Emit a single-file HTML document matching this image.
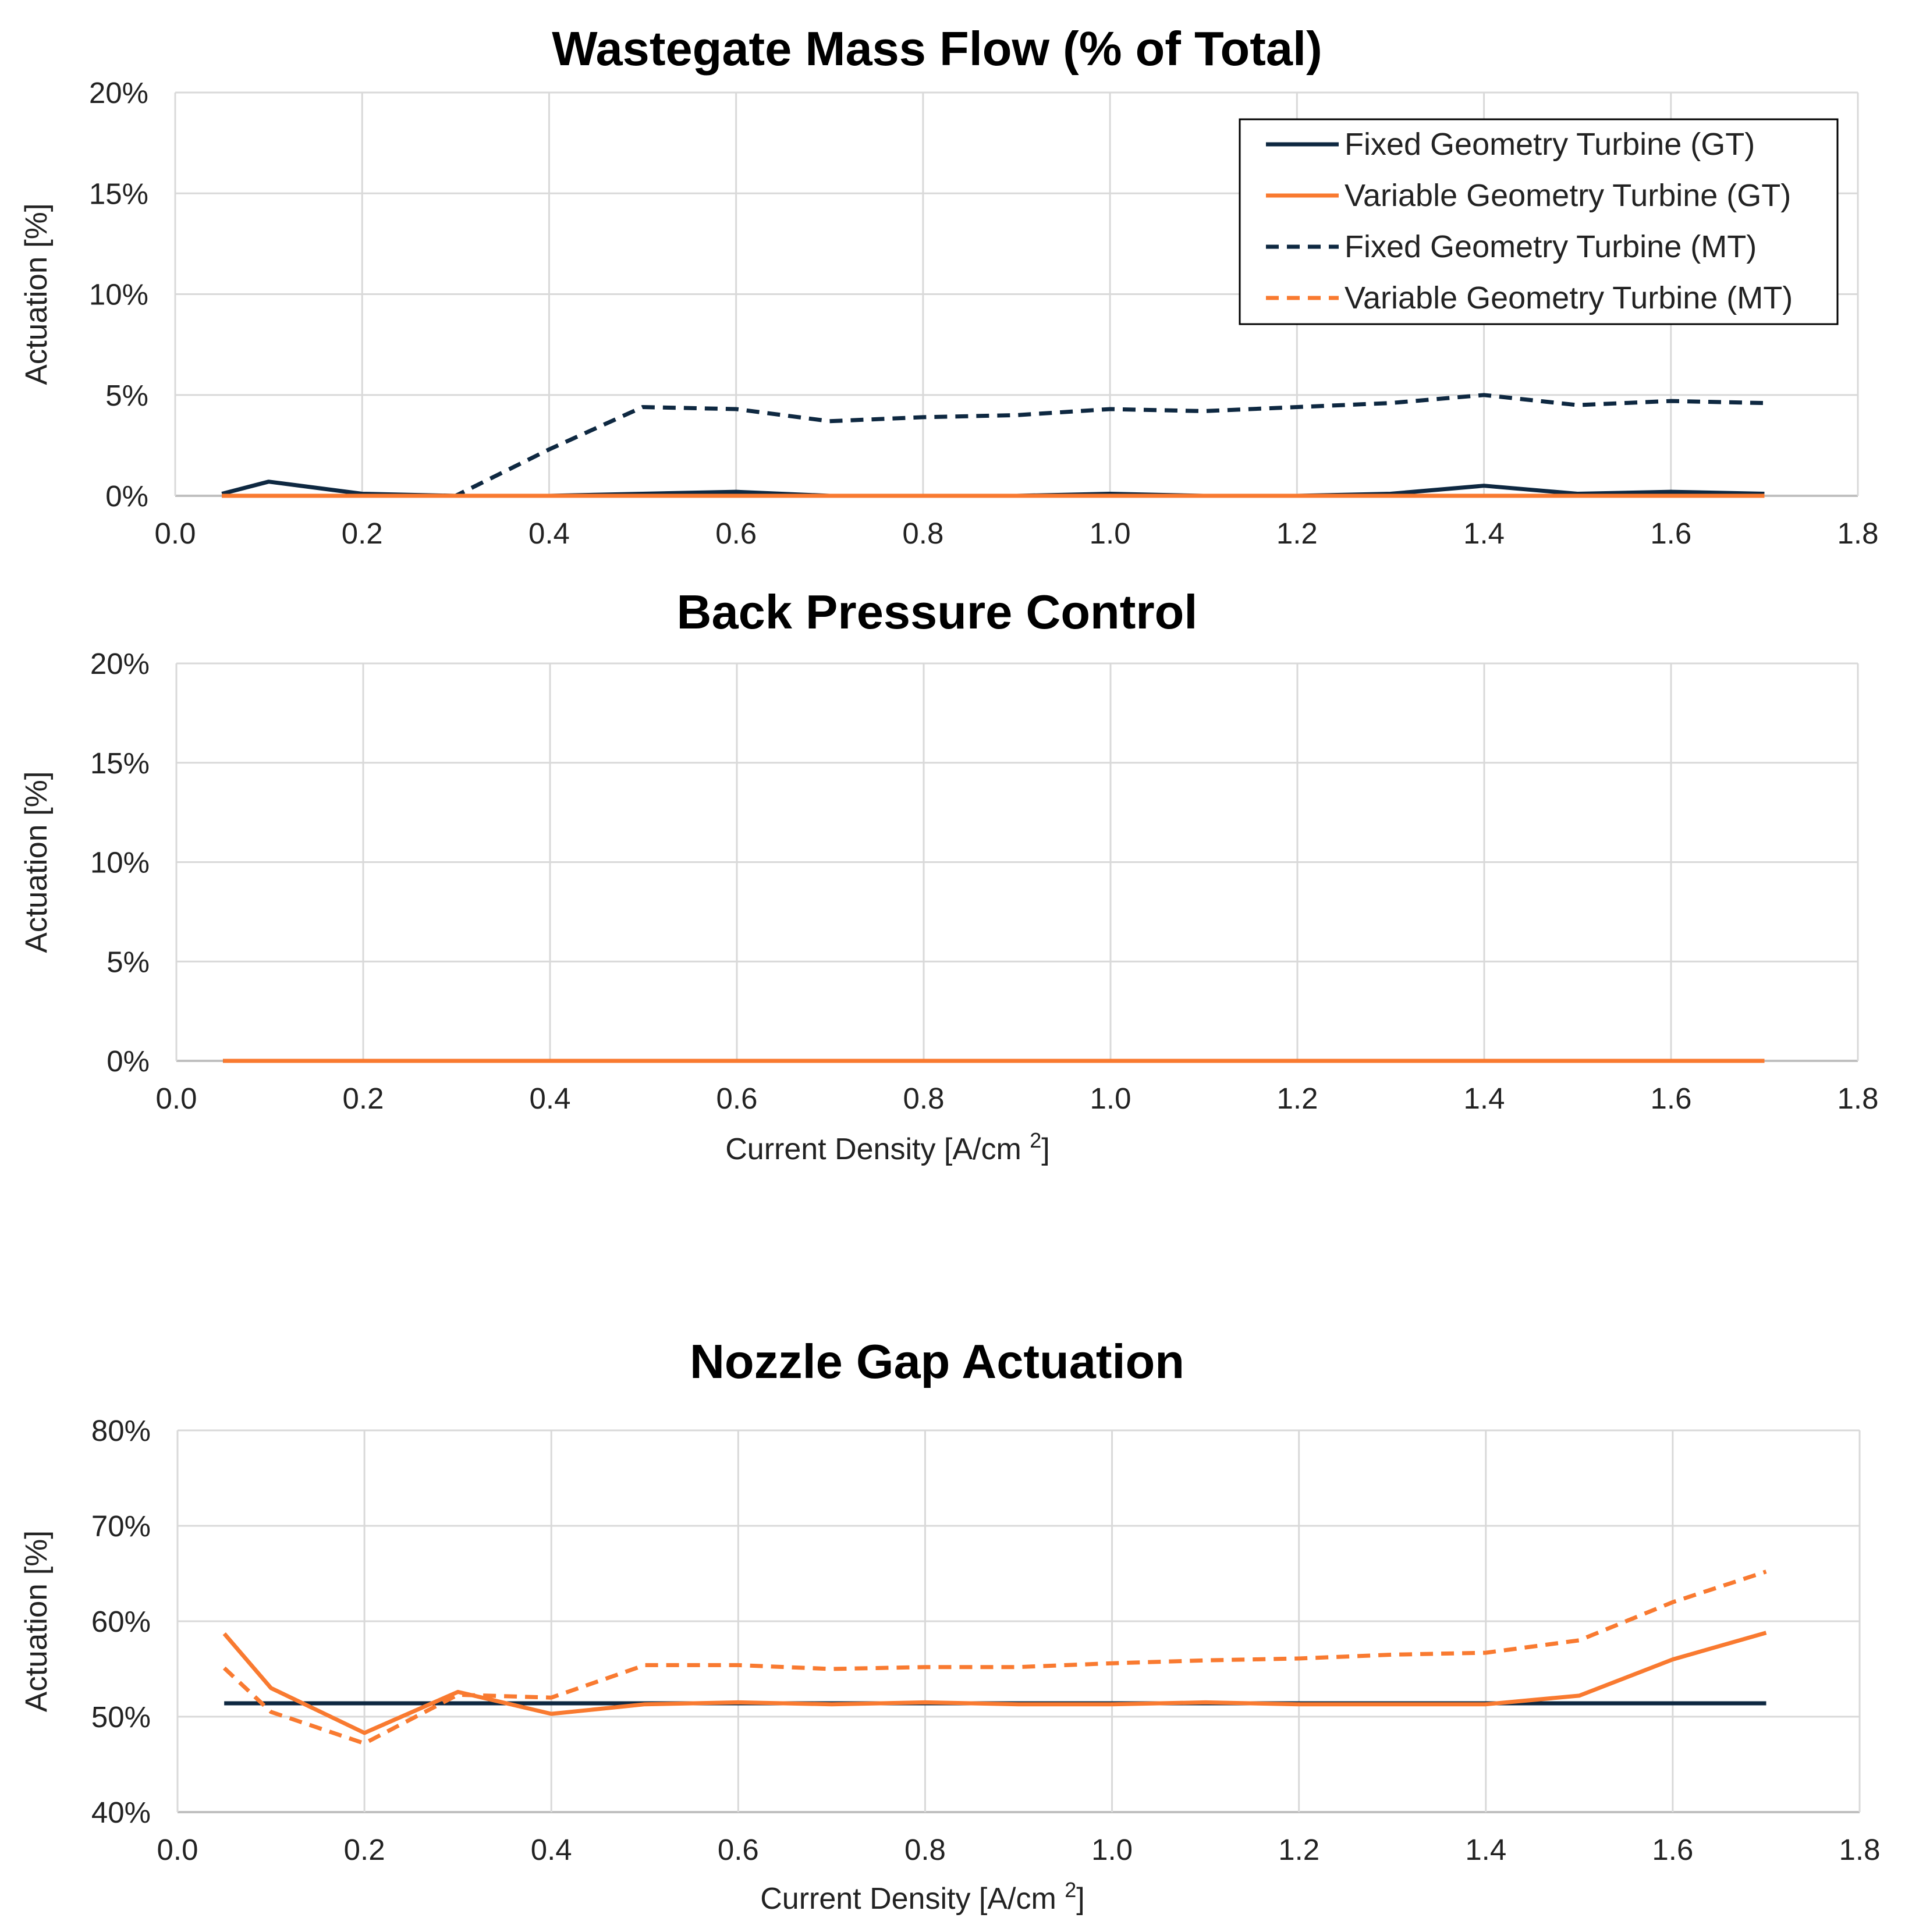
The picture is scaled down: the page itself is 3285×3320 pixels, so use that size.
<!DOCTYPE html>
<html><head><meta charset="utf-8"><style>
html,body{margin:0;padding:0;background:#fff;}
svg{display:block;font-family:"Liberation Sans",Arial,sans-serif;}
</style></head><body>
<svg id="c" width="3285" height="3320" viewBox="0 0 3285 3320" xmlns="http://www.w3.org/2000/svg"></svg>
<script>
const xs = [0.05,0.1,0.2,0.3,0.4,0.5,0.6,0.7,0.8,0.9,1.0,1.1,1.2,1.3,1.4,1.5,1.6,1.7];
const xTicks = [0,0.2,0.4,0.6,0.8,1.0,1.2,1.4,1.6,1.8];
const wgFixedGT = [0.1,0.7,0.1,0,0,0.1,0.2,0,0,0,0.1,0,0,0.1,0.5,0.1,0.2,0.1];
const wgVarGT = [0,0,0,0,0,0,0,0,0,0,0,0,0,0,0,0,0,0];
const wgFixedMT = [0,0,0,0,2.3,4.4,4.3,3.7,3.9,4.0,4.3,4.2,4.4,4.6,5.0,4.5,4.7,4.6];
const wgVarMT = [0,0,0,0,0,0,0,0,0,0,0,0,0,0,0,0,0,0];
const bpFixedGT = [0,0,0,0,0,0,0,0,0,0,0,0,0,0,0,0,0,0];
const bpVarGT = [0,0,0,0,0,0,0,0,0,0,0,0,0,0,0,0,0,0];
const bpFixedMT = [0,0,0,0,0,0,0,0,0,0,0,0,0,0,0,0,0,0];
const bpVarMT = [0,0,0,0,0,0,0,0,0,0,0,0,0,0,0,0,0,0];
const ngFixedGT = [51.4,51.4,51.4,51.4,51.4,51.4,51.4,51.4,51.4,51.4,51.4,51.4,51.4,51.4,51.4,51.4,51.4,51.4];
const ngVarGT = [58.7,53,48.3,52.6,50.3,51.3,51.5,51.3,51.5,51.3,51.3,51.5,51.3,51.3,51.3,52.2,56,58.8];
const ngFixedMT = [51.4,51.4,51.4,51.4,51.4,51.4,51.4,51.4,51.4,51.4,51.4,51.4,51.4,51.4,51.4,51.4,51.4,51.4];
const ngVarMT = [55.1,50.5,47.2,52.3,52,55.4,55.4,55,55.2,55.2,55.6,55.9,56.1,56.5,56.7,58,62,65.2];
const yTicks1 = [0,5,10,15,20];
const yTicks3 = [40,50,60,70,80];
const seriesNames = ["Fixed Geometry Turbine (GT)","Variable Geometry Turbine (GT)","Fixed Geometry Turbine (MT)","Variable Geometry Turbine (MT)"];

const NS="http://www.w3.org/2000/svg";
const svg=document.getElementById('c');
const NAVY="#0e2841", ORANGE="#f97a30";
function el(tag,attrs,parent){const e=document.createElementNS(NS,tag);for(const k in attrs)e.setAttribute(k,attrs[k]);(parent||svg).appendChild(e);return e;}
function txt(s,attrs,parent){const t=el('text',attrs,parent);t.textContent=s;return t;}

function chart(cfg){
  const g=el('g',{});
  
  
  const L=cfg.L,R=cfg.R,T=cfg.T,B=cfg.B;
  const yMin=cfg.yTicks[0], yMax=cfg.yTicks[cfg.yTicks.length-1];
  const X=v=>L+(v-0)/(1.8-0)*(R-L);
  const Y=v=>B-(v-yMin)/(yMax-yMin)*(B-T);
  cfg.yTicks.forEach(t=>{
    const ln=el('line',{x1:L,x2:R,y1:Y(t),y2:Y(t),stroke:t===yMin?'#bfbfbf':'#d9d9d9','stroke-width':t===yMin?4:3},g);
    
    
    const tl=txt(t+'%',{x:L-46,y:Y(t)+18,'text-anchor':'end','font-size':51,fill:'#222'},g);
    
    
  });
  xTicks.forEach(t=>{
    const ln=el('line',{x1:X(t),x2:X(t),y1:T,y2:B,stroke:'#d9d9d9','stroke-width':3},g);
    
    
    const tl=txt(t.toFixed(1),{x:X(t),y:B+82,'text-anchor':'middle','font-size':51,fill:'#222'},g);
    
    
  });
  const title=txt(cfg.title,{x:1610,y:cfg.titleY,'text-anchor':'middle','font-size':83,'font-weight':'bold',fill:'#000'},g);
  
  
  const yt=txt('Actuation [%]',{x:0,y:0,'text-anchor':'middle','font-size':53,fill:'#222',transform:`translate(80,${(T+B)/2}) rotate(-90)`},g);
  
  
  if(cfg.xTitleY){
    const xt=txt('Current Density [A/cm ',{x:cfg.xTitleX,y:cfg.xTitleY,'text-anchor':'middle','font-size':52,fill:'#222'},g);
    const ts=el('tspan',{dy:-20,'font-size':36},xt);ts.textContent='2';
    const ts2=el('tspan',{dy:20},xt);ts2.textContent=']';
    
    
  }
  const styles=[{c:NAVY,d:null},{c:ORANGE,d:null},{c:NAVY,d:'22 14'},{c:ORANGE,d:'22 14'}];
  const order=[2,0,3,1];
  order.forEach(i=>{
    const data=cfg.series[i];
    const pts=xs.map((x,j)=>X(x).toFixed(1)+','+Y(data[j]).toFixed(1)).join(' ');
    const p=el('polyline',{points:pts,fill:'none',stroke:styles[i].c,'stroke-width':7,'stroke-linejoin':'round'},g);
    if(styles[i].d)p.setAttribute('stroke-dasharray',styles[i].d);
    
    
  });
  if(cfg.legend){
    const lg=el('g',{},g);
    
    
    el('rect',{x:2130,y:205,width:1027,height:352,fill:'#fff',stroke:'#000','stroke-width':3},lg);
    seriesNames.forEach((n,i)=>{
      const y=248+i*88;
      const ln=el('line',{x1:2175,x2:2300,y1:y,y2:y,stroke:styles[i].c,'stroke-width':7},lg);
      if(styles[i].d)ln.setAttribute('stroke-dasharray','22 14');
      
      
      const t=txt(n,{x:2310,y:y+18,'font-size':54,fill:'#222'},lg);
      
      
    });
  }
}
chart({name:'wastegate-chart',title:'Wastegate Mass Flow (% of Total)',titleY:112,L:301,R:3192,T:159,B:852,yTicks:yTicks1,series:[wgFixedGT,wgVarGT,wgFixedMT,wgVarMT],legend:true});
chart({name:'back-pressure-chart',title:'Back Pressure Control',titleY:1080,L:303,R:3192,T:1140,B:1823,yTicks:yTicks1,series:[bpFixedGT,bpVarGT,bpFixedMT,bpVarMT],xTitleY:1992,xTitleX:1525});
chart({name:'nozzle-gap-chart',title:'Nozzle Gap Actuation',titleY:2368,L:305,R:3195,T:2458,B:3114,yTicks:yTicks3,series:[ngFixedGT,ngVarGT,ngFixedMT,ngVarMT],xTitleY:3280,xTitleX:1585});
</script>
</body></html>
